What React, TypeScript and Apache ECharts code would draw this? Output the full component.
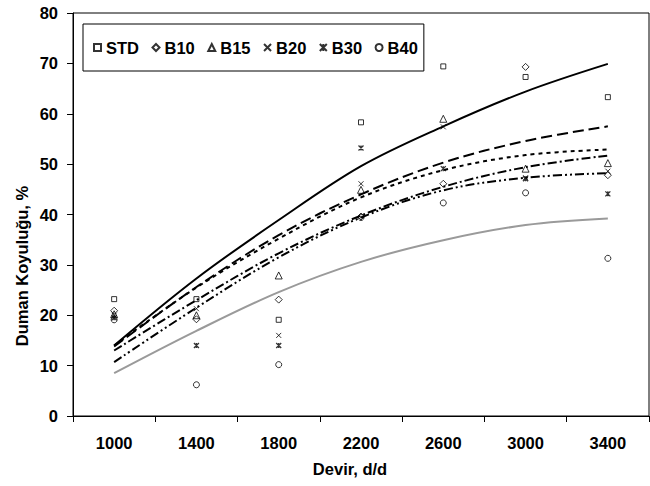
import React, { useEffect, useRef } from "react";
import * as echarts from "echarts";

const categories = ["1000", "1400", "1800", "2200", "2600", "3000", "3400"];

// measured points
const stdPts = [23.2, 23.2, 19.1, 58.3, 69.4, 67.3, 63.3];
const b10Pts = [20.9, 19.2, 23.1, 39.6, 46.1, 69.3, 47.8];
const b15Pts = [20.2, 20.0, 27.9, 44.9, 59.0, 49.1, 50.2];
const b20Pts = [20.0, 21.3, 16.0, 46.1, 57.4, 47.3, 48.6];
const b30Pts = [19.5, 14.0, 14.0, 53.2, 49.1, 47.1, 44.1];
const b40Pts = [19.1, 6.2, 10.2, 39.4, 42.3, 44.3, 31.3];

// trend curves
const stdTrend = [14.0, 27.3, 38.9, 49.6, 57.5, 64.4, 69.9];
const b10Trend = [13.8, 25.6, 35.9, 44.0, 50.3, 54.6, 57.5];
const b15Trend = [14.0, 25.5, 35.2, 43.4, 48.8, 51.8, 52.9];
const b20Trend = [13.0, 23.0, 32.3, 39.8, 45.5, 49.4, 51.7];
const b30Trend = [10.7, 21.5, 31.5, 39.4, 44.8, 47.3, 48.2];
const b40Trend = [8.5, 16.9, 24.6, 30.6, 34.9, 37.9, 39.2];

const yTicks = { min: 0, max: 80, interval: 10 };

const FONT = 'Arial, "Liberation Sans", sans-serif';
const FS = 16.5;

const X_PATH = "path://M0,0L10,10M10,0L0,10";
const STAR_PATH = "path://M0,0L10,10M10,0L0,10M5,0L5,10";

export default function App() {
  const ref = useRef<HTMLDivElement>(null);
  useEffect(() => {
    document.body.style.margin = "0";
    const chart = echarts.init(ref.current!, null, { renderer: "svg" });
    const pt = (name: string, data: number[], symbol: string, size: number, bw = 1) => ({
      name,
      type: "scatter",
      data,
      symbol,
      symbolSize: size,
      itemStyle: { color: "rgba(0,0,0,0)", borderColor: "#000", borderWidth: bw },
      z: 5,
    });
    const tr = (name: string, data: number[], type: any, color = "#000", width = 2) => ({
      name,
      type: "line",
      data,
      smooth: 0.35,
      symbol: "none",
      lineStyle: { color, width, type },
      z: 3,
    });
    chart.setOption({
      animation: false,
      backgroundColor: "#fff",
      grid: {
        left: 73,
        top: 13,
        right: 1,
        bottom: 70,
        show: true,
        borderColor: "#000",
        borderWidth: 1,
        backgroundColor: "transparent",
      },
      legend: {
        data: ["STD", "B10", "B15", "B20", "B30", "B40"],
        left: 83,
        top: 24,
        orient: "horizontal",
        itemWidth: 7,
        itemHeight: 7,
        itemGap: 12.5,
        padding: [15, 6, 15, 10],
        borderColor: "#000",
        borderWidth: 1,
        backgroundColor: "#fff",
        textStyle: { fontFamily: FONT, fontWeight: "bold", fontSize: FS, color: "#000" },
      },
      xAxis: {
        type: "category",
        data: categories,
        boundaryGap: true,
        axisLine: { lineStyle: { color: "#000", width: 1 } },
        axisTick: { show: true, length: 6, alignWithLabel: false, lineStyle: { color: "#000" } },
        axisLabel: { margin: 18, fontFamily: FONT, fontWeight: "bold", fontSize: FS, color: "#000" },
        splitLine: { show: false },
      },
      yAxis: {
        type: "value",
        min: yTicks.min,
        max: yTicks.max,
        interval: yTicks.interval,
        axisLine: { show: true, lineStyle: { color: "#000", width: 1 } },
        axisTick: { show: true, length: 6, lineStyle: { color: "#000" } },
        axisLabel: { margin: 15, fontFamily: FONT, fontWeight: "bold", fontSize: FS, color: "#000" },
        splitLine: { show: false },
      },
      graphic: [
        {
          type: "text",
          x: 350,
          y: 469,
          style: {
            text: "Devir, d/d",
            fill: "#000",
            font: `bold ${FS}px ${FONT}`,
            textAlign: "center",
            textVerticalAlign: "middle",
          },
        },
        {
          type: "text",
          x: 22,
          y: 266,
          rotation: Math.PI / 2,
          style: {
            text: "Duman Koyuluğu, %",
            fill: "#000",
            font: `bold ${FS}px ${FONT}`,
            textAlign: "center",
            textVerticalAlign: "middle",
          },
        },
      ],
      series: [
        tr("STD trend", stdTrend, "solid", "#000", 2),
        tr("B10 trend", b10Trend, [11, 5], "#000", 2),
        tr("B15 trend", b15Trend, [4, 4], "#000", 2),
        tr("B20 trend", b20Trend, [9, 3, 2, 3], "#000", 2),
        tr("B30 trend", b30Trend, [9, 3, 2, 3, 2, 3], "#000", 2),
        tr("B40 trend", b40Trend, "solid", "#9a9a9a", 2),
        pt("STD", stdPts, "rect", 5),
        pt("B10", b10Pts, "diamond", 7),
        pt("B15", b15Pts, "triangle", 7),
        pt("B20", b20Pts, X_PATH, 5),
        pt("B30", b30Pts, STAR_PATH, 5, 1.3),
        pt("B40", b40Pts, "circle", 6),
      ],
    });
    return () => chart.dispose();
  }, []);
  return <div ref={ref} style={{ width: 650, height: 486 }} />;
}
